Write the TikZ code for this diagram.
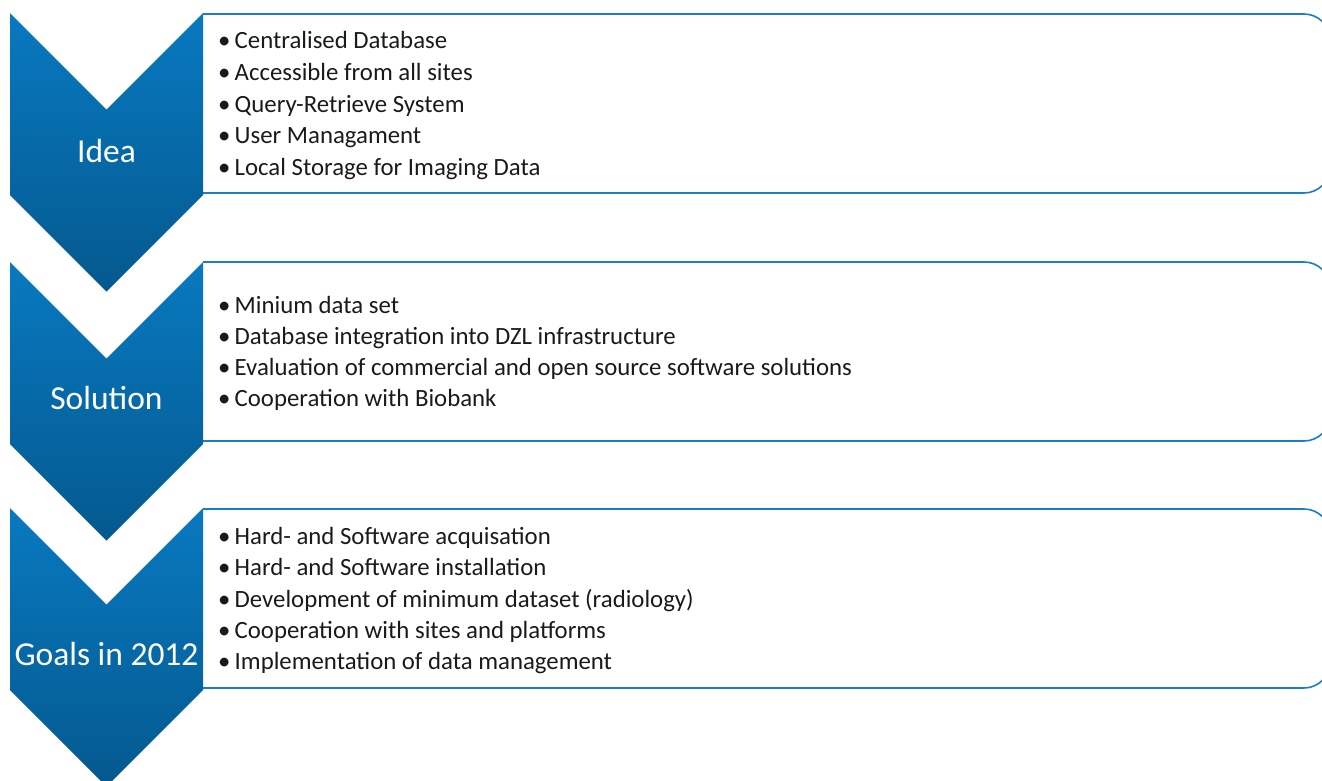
\documentclass[tikz,border=0pt]{standalone}
\usepackage{fontspec}
\setmainfont{Carlito}
\usetikzlibrary{positioning}
\definecolor{cblue}{HTML}{1B7DC4}
\definecolor{ctop}{HTML}{0879C0}
\definecolor{cbottom}{HTML}{04598E}
\definecolor{ctext}{HTML}{1A1A1A}

\tikzset{
  chevron/.style={top color=ctop, bottom color=cbottom, draw=none},
  stagebox/.style={draw=cblue, line width=1.6pt, rounded corners=26pt},
  stagelabel/.style={anchor=base, text=white, inner sep=0pt, font=\fontsize{33.5}{40}\selectfont},
  itemline/.style={anchor=base west, text=ctext, inner sep=0pt, font=\fontsize{24.8}{30}\selectfont}
}
\newcommand{\itm}[1]{\makebox[16.5pt][l]{\textbullet}#1}

\begin{document}
\begin{tikzpicture}[x=1pt, y=-1pt]
  \useasboundingbox (0,0) rectangle (1322,780);
  \clip (0,0) rectangle (1322,780);

  % Boxes on the right (right side runs past the page)
  \foreach \T in {14,262,509}{
    \draw[stagebox] (203,\T) -- (1330,\T) -- (1330,\T+179) -- (203,\T+179);
  }

  % Chevrons: top edge, label baseline
  \foreach \T/\B/\name/\lbl in {13/162/idea/Idea, 262/409/solution/Solution, 508/665/goals/Goals in 2012}{
    \shade[chevron] (10,\T) -- (106.5,\T+96.5) -- (203,\T) -- (203,\T+182)
      -- (106.5,\T+278.5) -- (10,\T+182) -- cycle;
    \node[stagelabel] (\name) at (106.5,\B) {\lbl};
  }

  % Idea
  \foreach \t [count=\k] in {Centralised Database, Accessible from all sites,
      Query-Retrieve System, User Managament, Local Storage for Imaging Data}{
    \node[itemline] (idea-\k) at (218,48.5+31.8*\k-31.8) {\itm{\t}};
  }
  % Solution
  \foreach \t [count=\k] in {Minium data set, Database integration into DZL infrastructure,
      Evaluation of commercial and open source software solutions, Cooperation with Biobank}{
    \node[itemline] (solution-\k) at (218,313.5+31*\k-31) {\itm{\t}};
  }
  % Goals in 2012
  \foreach \t [count=\k] in {Hard- and Software acquisation, Hard- and Software installation,
      Development of minimum dataset (radiology), Cooperation with sites and platforms,
      Implementation of data management}{
    \node[itemline] (goals-\k) at (218,544.5+31.3*\k-31.3) {\itm{\t}};
  }
\end{tikzpicture}
\end{document}
